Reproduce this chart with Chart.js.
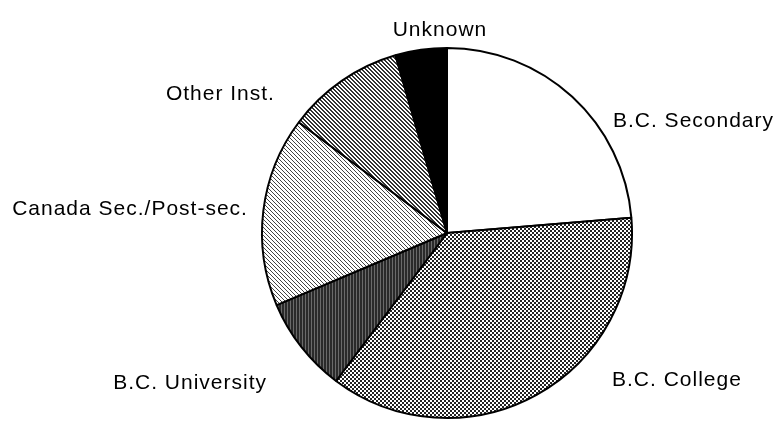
<!DOCTYPE html>
<html>
<head>
<meta charset="utf-8">
<script src="https://cdn.jsdelivr.net/npm/chart.js@4.4.0/dist/chart.umd.min.js"></script>
<style>
  html, body { margin: 0; padding: 0; background: #fff; }
  #wrap { width: 777px; height: 421px; }
</style>
</head>
<body>
<div id="wrap"><canvas id="pieChart" width="777" height="421"></canvas></div>
<script>
    // slices, clockwise from 12 o'clock
    const categories = ["B.C. Secondary", "B.C. College", "B.C. University", "Canada Sec./Post-sec.", "Other Inst.", "Unknown"];
    const shares = [23.7, 36.6, 8.4, 16.6, 10.3, 4.5];

    // label spot relative to pie centre, in pie radii, plus alignment
    const labelSpots = [
        [0.897, -0.605, "left"],
        [0.892, 0.795, "left"],
        [-0.973, 0.81, "right"],
        [-1.076, -0.127, "right"],
        [-0.93, -0.752, "right"],
        [-0.038, -1.097, "center"]
    ];

    function makePattern(size, draw) {
        let c = document.createElement("canvas");
        c.width = size;
        c.height = size;
        let g = c.getContext("2d");
        draw(g);
        return c.getContext("2d").createPattern(c, "repeat");
    }

    function px(g, col, pts) {
        g.fillStyle = col;
        pts.forEach(function(p) { g.fillRect(p[0], p[1], 1, 1); });
    }

    const checker = makePattern(4, function(g) {
        g.fillStyle = "#fff"; g.fillRect(0, 0, 4, 4);
        g.fillStyle = "#222"; g.fillRect(0, 0, 2, 2); g.fillRect(2, 2, 2, 2);
    });
    const darkStripes = makePattern(3, function(g) {
        g.fillStyle = "#2a2a2a"; g.fillRect(0, 0, 3, 3);
        g.fillStyle = "#6a6a6a"; g.fillRect(2, 0, 1, 3);
    });
    const diagLight = makePattern(4, function(g) {
        g.fillStyle = "#fff"; g.fillRect(0, 0, 4, 4);
        px(g, "#444", [[0, 0], [1, 1], [2, 2], [3, 3]]);
    });
    const diagMid = makePattern(4, function(g) {
        g.fillStyle = "#fff"; g.fillRect(0, 0, 4, 4);
        px(g, "#333", [[0, 0], [1, 1], [2, 2], [3, 3], [1, 0], [2, 1], [3, 2], [0, 3]]);
    });

    const fills = ["#ffffff", checker, darkStripes, diagLight, diagMid, "#000000"];

    const outsideLabels = {
        id: "outsideLabels",
        afterDatasetsDraw(chart) {
            const ctx = chart.ctx;
            const arc = chart.getDatasetMeta(0).data[0];
            const r = arc.outerRadius;
            ctx.save();
            ctx.font = "21px 'Liberation Sans', Arial, sans-serif";
            ctx.letterSpacing = "1px";
            ctx.fillStyle = "#000";
            ctx.textBaseline = "middle";
            categories.forEach(function(name, i) {
                let s = labelSpots[i];
                ctx.textAlign = s[2];
                ctx.fillText(name, arc.x + s[0] * r, arc.y + s[1] * r);
            });
            ctx.restore();
        }
    };

    const chart = new Chart(document.getElementById("pieChart").getContext("2d"), {
        type: "pie",
        data: {
            labels: categories,
            datasets: [{
                data: shares,
                backgroundColor: fills,
                borderColor: "#000",
                borderWidth: 2
            }]
        },
        options: {
            responsive: false,
            animation: false,
            devicePixelRatio: 1,
            layout: { padding: { left: 261, right: 144, top: 47, bottom: 2 } },
            plugins: {
                legend: { display: false },
                tooltip: { enabled: false }
            }
        },
        plugins: [outsideLabels]
    });
</script>
</body>
</html>
